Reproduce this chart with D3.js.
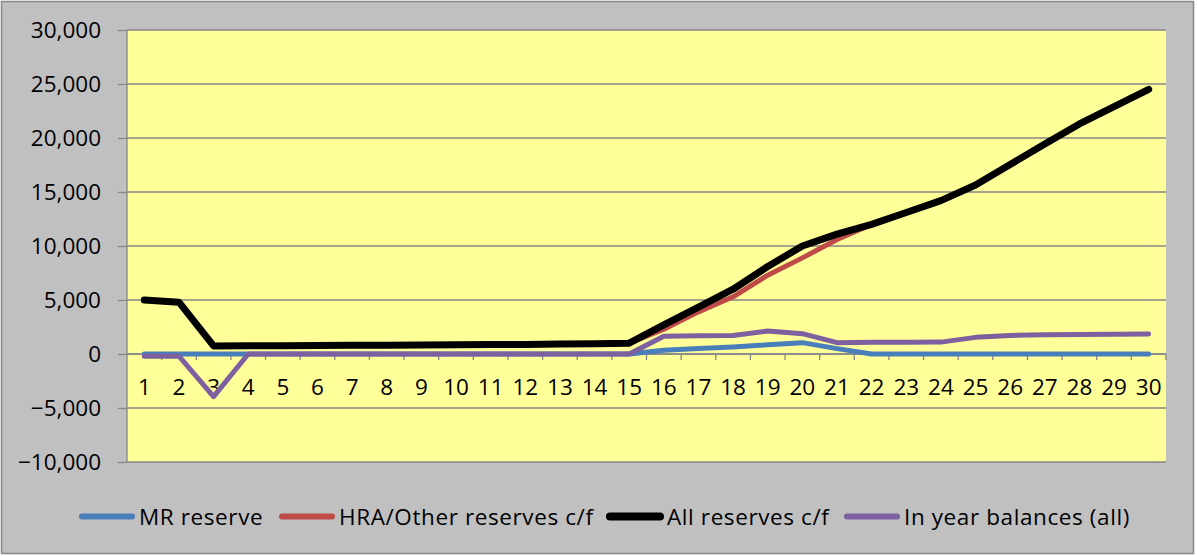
<!DOCTYPE html>
<html lang="en">
<head>
  <meta charset="UTF-8">
  <title>Reserves</title>
  <style>
    html, body {
      margin: 0;
      background: #ffffff;
    }
    svg text {
      font-family: "Open Sans", Lato, sans-serif;
      fill: #000;
    }
  </style>
</head>
<body>
  <svg id="chart" width="1197" height="556"></svg>

  <script src="https://cdnjs.cloudflare.com/ajax/libs/d3/7.8.5/d3.min.js"></script>
  <script>
    const years = d3.range(1, 31);
    const yTicks = [-10000, -5000, 0, 5000, 10000, 15000, 20000, 25000, 30000];

    const mrReserve = [0, 0, 0, 0, 0, 0, 0, 0, 0, 0, 0, 0, 0, 0, 0,
      350, 500, 650, 850, 1050, 500, 0, 0, 0, 0, 0, 0, 0, 0, 0];
    const hraReserves = [5000, 4800, 750, 760, 770, 780, 800, 810, 830, 850, 870, 890, 920, 950, 1000,
      2300, 3900, 5300, 7300, 8900, 10600, 12000, 13100, 14200, 15650, 17550, 19450, 21300, 22900, 24500];
    const allReserves = [5000, 4800, 750, 760, 770, 780, 800, 810, 830, 850, 870, 890, 920, 950, 1000,
      2700, 4350, 6000, 8100, 10000, 11100, 12000, 13100, 14200, 15650, 17550, 19450, 21300, 22900, 24500];
    const inYear = [-200, -200, -3950, 0, 0, 0, 0, 0, 0, 0, 0, 0, 0, 0, 0,
      1650, 1680, 1720, 2130, 1880, 1050, 1080, 1090, 1100, 1540, 1720, 1780, 1800, 1820, 1850];

    const series = [
      { name: 'MR reserve', values: mrReserve, color: '#4a7ebb', width: 5 },
      { name: 'HRA/Other reserves c/f', values: hraReserves, color: '#be4b48', width: 5 },
      { name: 'All reserves c/f', values: allReserves, color: '#000000', width: 7 },
      { name: 'In year balances (all)', values: inYear, color: '#7d60a0', width: 5 }
    ];

    const svg = d3.select('#chart');
    const plot = { left: 127, right: 1166, top: 30, bottom: 462 };

    // chart background and border
    svg.append('rect')
      .attr('x', 1.5).attr('y', 1.5)
      .attr('width', 1192).attr('height', 552)
      .attr('fill', '#c0c0c0')
      .attr('stroke', '#888888')
      .attr('stroke-width', 1.5);

    const x = d3.scaleBand()
      .domain(years)
      .range([plot.left, plot.right]);

    const y = d3.scaleLinear()
      .domain([-10000, 30000])
      .range([plot.bottom, plot.top]);

    svg.append('rect')
      .attr('x', plot.left).attr('y', plot.top)
      .attr('width', plot.right - plot.left)
      .attr('height', plot.bottom - plot.top)
      .attr('fill', '#ffff99');

    // gridlines
    svg.append('g')
      .selectAll('line')
      .data(yTicks)
      .join('line')
      .attr('x1', plot.left).attr('x2', plot.right)
      .attr('y1', d => y(d)).attr('y2', d => y(d))
      .attr('stroke', '#868686')
      .attr('stroke-width', 1.3);

    // y axis
    const yAxis = svg.append('g')
      .attr('transform', `translate(${plot.left},0)`)
      .call(d3.axisLeft(y).tickValues(yTicks).tickSize(9).tickPadding(17)
        .tickFormat(d3.format(',')));
    yAxis.selectAll('line, path').attr('stroke', '#868686').attr('stroke-width', 1.3);
    yAxis.select('.domain').attr('d', `M0,${plot.top}V${plot.bottom}`);
    yAxis.selectAll('text')
      .style('font-family', '"Open Sans", sans-serif')
      .style('font-size', '22.5px')
      .attr('fill', '#000');

    // x axis on the zero line
    const xAxis = svg.append('g')
      .attr('transform', `translate(0,${y(0)})`)
      .call(d3.axisBottom(x).tickSize(0).tickPadding(25));
    xAxis.select('.domain').attr('stroke', '#868686').attr('stroke-width', 1.3)
      .attr('d', `M${plot.left},0H${plot.right}`);
    xAxis.selectAll('text')
      .style('font-family', '"Open Sans", sans-serif')
      .style('font-size', '22.5px')
      .attr('fill', '#000');
    xAxis.selectAll('.boundary')
      .data(years.slice(1).concat([31]))
      .join('line')
      .attr('class', 'boundary')
      .attr('x1', (d, i) => i < 29 ? x(d) : plot.right)
      .attr('x2', (d, i) => i < 29 ? x(d) : plot.right)
      .attr('y1', 0).attr('y2', 6)
      .attr('stroke', '#868686')
      .attr('stroke-width', 1.3);

    // lines
    const line = d3.line()
      .x((d, i) => x(years[i]) + x.bandwidth() / 2)
      .y(d => y(d));

    svg.append('g')
      .selectAll('path')
      .data(series)
      .join('path')
      .attr('d', d => line(d.values))
      .attr('fill', 'none')
      .attr('stroke', d => d.color)
      .attr('stroke-width', d => d.width)
      .attr('stroke-linejoin', 'round')
      .attr('stroke-linecap', 'round');

    // legend
    const legendX = [79, 279, 607, 844];
    const legend = svg.append('g')
      .selectAll('g')
      .data(series)
      .join('g')
      .attr('transform', (d, i) => `translate(${legendX[i]},516.5)`);
    legend.append('line')
      .attr('x1', 3).attr('x2', 53)
      .attr('stroke', d => d.color)
      .attr('stroke-width', d => d.width + 1)
      .attr('stroke-linecap', 'round');
    legend.append('text')
      .attr('x', 60)
      .attr('dy', '0.36em')
      .style('font-size', '22.5px')
      .style('letter-spacing', '0.6px')
      .text(d => d.name);
  </script>
</body>
</html>
